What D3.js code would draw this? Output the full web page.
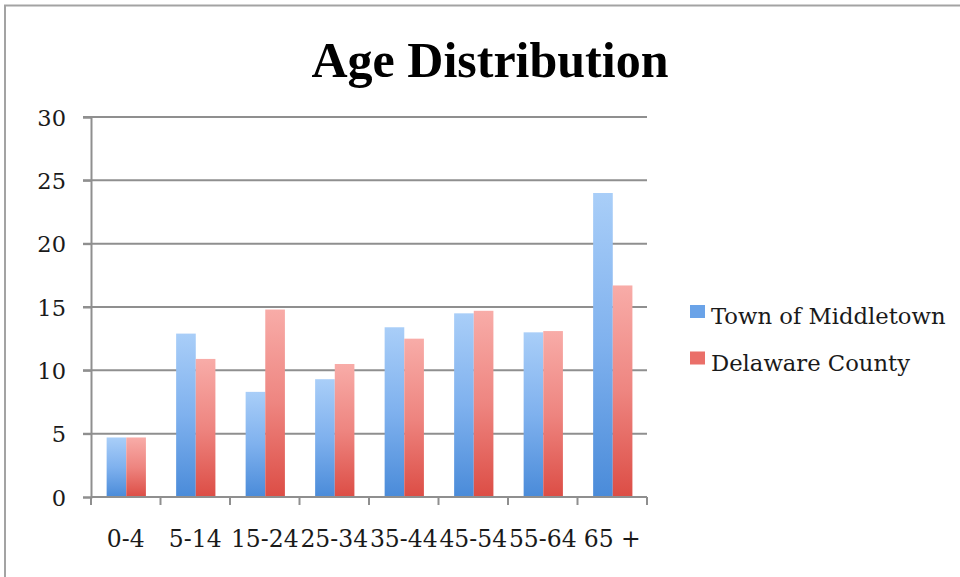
<!DOCTYPE html>
<html>
<head>
<meta charset="utf-8">
<script src="https://cdn.jsdelivr.net/npm/d3@7/dist/d3.min.js"></script>
<style>
  html, body { margin: 0; padding: 0; background: #ffffff; }
  svg { display: block; }
</style>
</head>
<body>
<svg id="chart" width="960" height="577"></svg>
<script>
// Age groups and population shares (%)
const categories = ["0-4", "5-14", "15-24", "25-34", "35-44", "45-54", "55-64", "65 +"];
const seriesNames = ["Town of Middletown", "Delaware County"];
const middletown = [4.7, 12.9, 8.3, 9.3, 13.4, 14.5, 13.0, 24.0];
const delaware   = [4.7, 10.9, 14.8, 10.5, 12.5, 14.7, 13.1, 16.7];
const yTicks = [0, 5, 10, 15, 20, 25, 30];
const title = "Age Distribution";

const seriesValues = [middletown, delaware];
const rows = categories.map((c, i) => ({
  category: c,
  values: seriesNames.map((s, j) => ({ series: s, index: j, value: seriesValues[j][i] }))
}));

const svg = d3.select("#chart");

// outer frame
svg.append("rect")
  .attr("x", 5).attr("y", 5.5)
  .attr("width", 1000).attr("height", 700)
  .attr("fill", "none")
  .attr("stroke", "#a3a3a3")
  .attr("stroke-width", 2);

// gradients
const defs = svg.append("defs");
const gradStops = [
  { id: "gradBlue", top: "#a9cef8", mid: "#7fb1ee", bottom: "#4a8bd9" },
  { id: "gradRed", top: "#f8aca8", mid: "#ee8580", bottom: "#dc4d45" }
];
gradStops.forEach(g => {
  const lg = defs.append("linearGradient")
    .attr("id", g.id).attr("x1", 0).attr("y1", 0).attr("x2", 0).attr("y2", 1);
  lg.append("stop").attr("offset", "0%").attr("stop-color", g.top);
  lg.append("stop").attr("offset", "50%").attr("stop-color", g.mid);
  lg.append("stop").attr("offset", "100%").attr("stop-color", g.bottom);
});
const fills = ["url(#gradBlue)", "url(#gradRed)"];
const swatchFills = ["#6aa3e8", "#ea6f69"];

const plot = { left: 91, right: 647, top: 117, bottom: 497 };

const x = d3.scaleBand().domain(categories).range([plot.left, plot.right]).padding(0);
const xSeries = d3.scaleBand().domain(seriesNames)
  .range([x.bandwidth() * 0.225, x.bandwidth() * 0.79]).padding(0);
const y = d3.scaleLinear().domain([0, 30]).range([plot.bottom, plot.top]);

const gridColor = "#8f8f8f";
const tickFont = "'DejaVu Serif', serif";

// horizontal gridlines
svg.append("g")
  .selectAll("line")
  .data(yTicks.filter(t => t > 0))
  .join("line")
  .attr("x1", plot.left - 8).attr("x2", plot.right)
  .attr("y1", d => y(d)).attr("y2", d => y(d))
  .attr("stroke", gridColor).attr("stroke-width", 2);

// y axis
const yAxis = svg.append("g")
  .attr("transform", `translate(${plot.left},0)`)
  .call(d3.axisLeft(y).tickValues(yTicks).tickSize(8).tickPadding(17));
yAxis.select(".domain").attr("stroke", gridColor).attr("stroke-width", 2);
yAxis.selectAll(".tick line").attr("stroke", gridColor).attr("stroke-width", 2);
yAxis.selectAll(".tick text")
  .attr("font-family", tickFont).attr("font-size", 22.5).attr("fill", "#1a1a1a")
  .attr("dy", "0.36em");

// bars
const groups = svg.append("g")
  .selectAll("g")
  .data(rows)
  .join("g")
  .attr("transform", d => `translate(${x(d.category)},0)`);

groups.selectAll("rect")
  .data(d => d.values)
  .join("rect")
  .attr("x", d => xSeries(d.series))
  .attr("width", xSeries.bandwidth())
  .attr("y", d => y(d.value))
  .attr("height", d => y(0) - y(d.value))
  .attr("fill", d => fills[d.index]);

// x axis with ticks between categories
const xAxisG = svg.append("g").attr("transform", `translate(0,${plot.bottom})`);
xAxisG.append("line")
  .attr("x1", plot.left).attr("x2", plot.right)
  .attr("stroke", gridColor).attr("stroke-width", 2);
const boundaries = categories.map(c => x(c)).concat([x(categories[categories.length - 1]) + x.bandwidth()]);
xAxisG.selectAll("line.tick")
  .data(boundaries)
  .join("line")
  .attr("class", "tick")
  .attr("x1", d => d).attr("x2", d => d)
  .attr("y1", 0).attr("y2", 8)
  .attr("stroke", gridColor).attr("stroke-width", 2);
xAxisG.selectAll("text")
  .data(categories)
  .join("text")
  .attr("x", d => x(d) + x.bandwidth() / 2)
  .attr("y", 50)
  .attr("text-anchor", "middle")
  .attr("font-family", tickFont).attr("font-size", 23.5).attr("fill", "#1a1a1a")
  .text(d => d);

// title
svg.append("text")
  .attr("x", 490).attr("y", 77)
  .attr("text-anchor", "middle")
  .attr("font-family", "'Liberation Serif', serif")
  .attr("font-weight", "bold")
  .attr("font-size", 50)
  .attr("fill", "#000")
  .text(title);

// legend
const legend = svg.append("g").attr("transform", "translate(690,305)");
const items = legend.selectAll("g")
  .data(seriesNames)
  .join("g")
  .attr("transform", (d, i) => `translate(0,${i * 46.5})`);
items.append("rect")
  .attr("width", 15).attr("height", 13)
  .attr("fill", (d, i) => swatchFills[i]);
items.append("text")
  .attr("x", 21).attr("y", 19)
  .attr("font-family", tickFont).attr("font-size", 22.7).attr("fill", "#1a1a1a")
  .text(d => d);
</script>
</body>
</html>
